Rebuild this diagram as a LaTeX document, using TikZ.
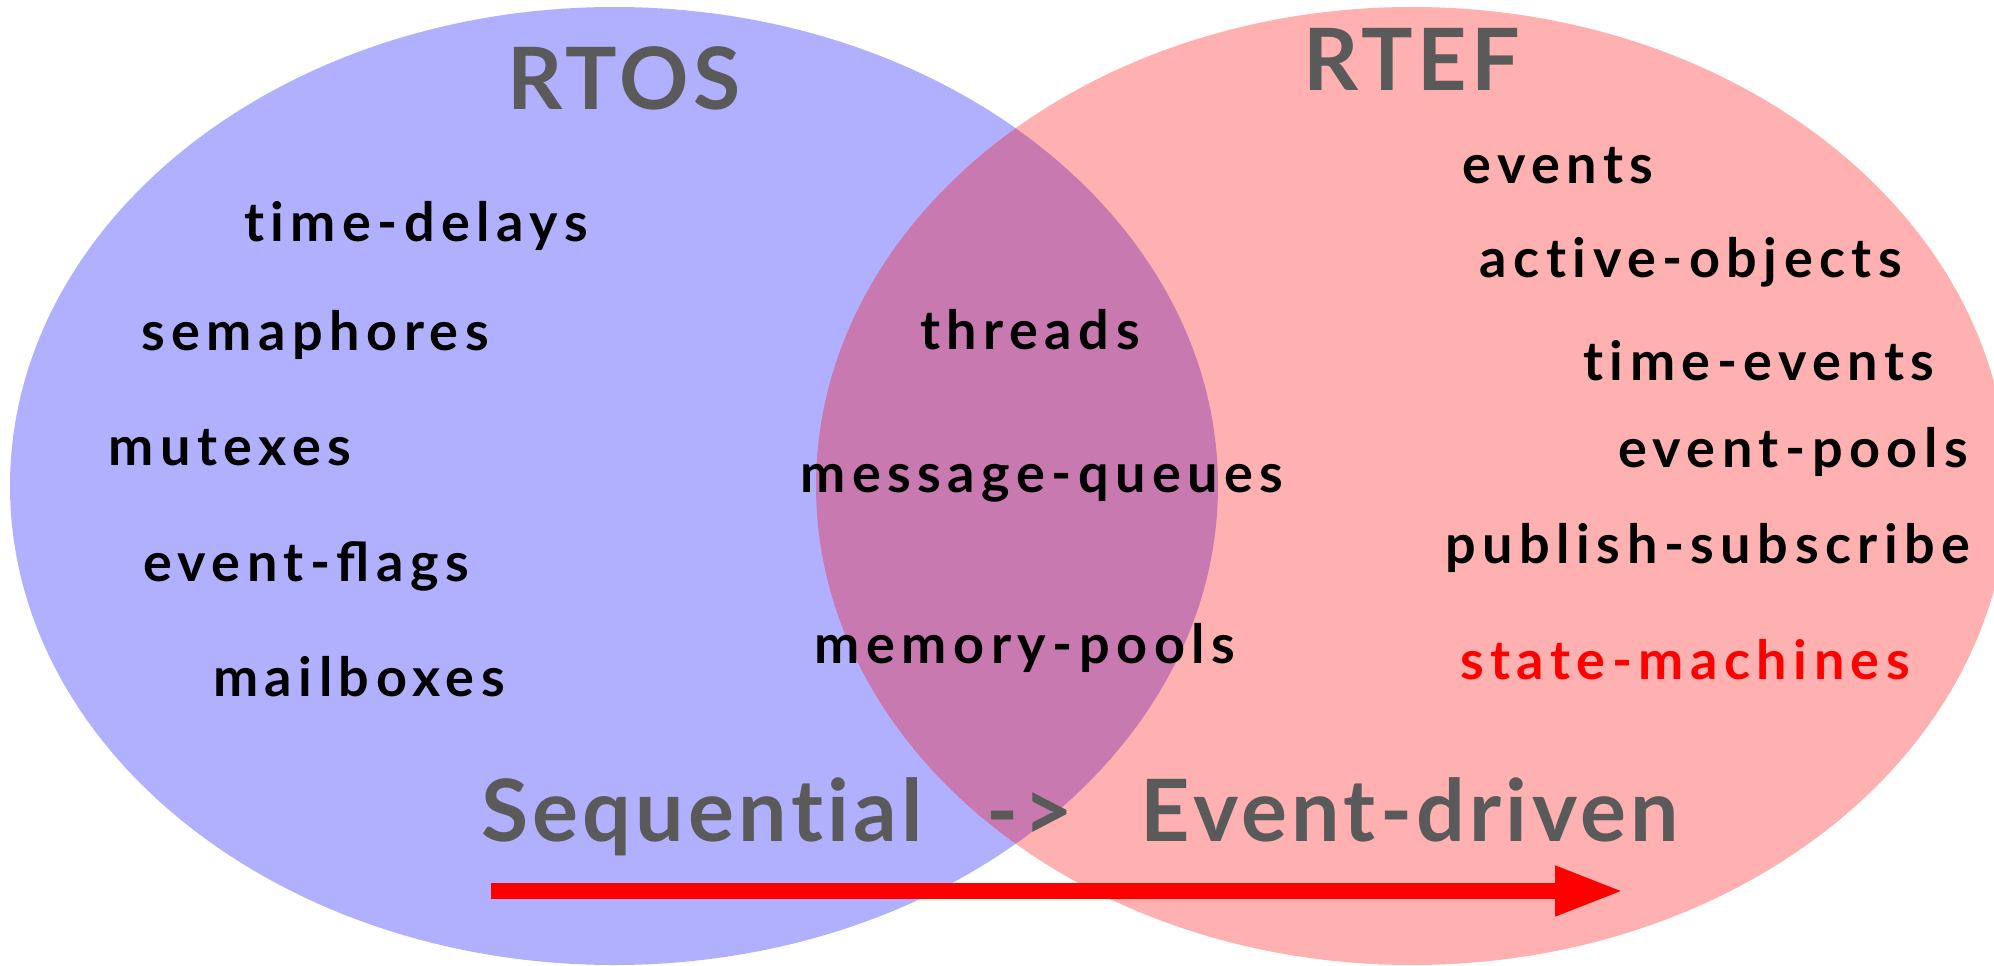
\documentclass[tikz,border=0pt]{standalone}
\usepackage{fontspec}
\setmainfont{Lato}
\newfontfamily\motfont{Lato}[LetterSpace=12,Ligatures=NoCommon]
\newfontfamily\titrefont{Lato}[LetterSpace=5,Ligatures=NoCommon]
\usetikzlibrary{arrows.meta}
\definecolor{grisfonce}{HTML}{5A5A5A}

\begin{document}
\begin{tikzpicture}[x=1pt,y=-1pt]
		\tikzstyle{mot} = [inner sep=0pt,anchor=base,font={\motfont\bfseries\fontsize{54}{62}\selectfont}];
		\tikzstyle{titre} = [inner sep=0pt,anchor=base,text=grisfonce,font={\titrefont\bfseries\fontsize{86}{96}\selectfont}];
		
		\useasboundingbox (0,0) rectangle (1994,966);
		
		% les deux ensembles
		\fill[blue,fill opacity=0.31] (614,486) ellipse [x radius=604pt,y radius=479pt];
		\fill[red,fill opacity=0.31] (1412,486) ellipse [x radius=596pt,y radius=479pt];
		
		\node[titre] (rtos) at (624,110) {RTOS};
		\node[titre] (rtef) at (1412,91) {RTEF};
		
		\foreach \x/\y/\t [count=\i] in {416/241/time-delays,315/350/semaphores,230/465/mutexes,306/581/event-ﬂags,359/696/mailboxes}{
			\node[mot] (os\i) at (\x,\y) {\t};
		}
		\foreach \x/\y/\t [count=\i] in {1030/349/threads,1042/492/message-queues,1025/663/memory-pools}{
			\node[mot] (com\i) at (\x,\y) {\t};
		}
		\foreach \x/\y/\t [count=\i] in {1558/183/events,1691/277/active-objects,1759/380/time-events,1793/467/event-pools,1708/563/publish-subscribe}{
			\node[mot] (ef\i) at (\x,\y) {\t};
		}
		\node[mot,text=red] (ef6) at (1685,679) {state-machines};
		
		\node[titre] (seq) at (702,841) {Sequential};
		\node[titre] (vers) at (1030,841) {->};
		\node[titre] (evt) at (1410,841) {Event-driven};
		
		\coordinate (debut) at (491,891);
		\coordinate (fin) at (1624,891);
		\draw[-{Triangle[length=69pt,width=46pt]},line width=16pt,red] (debut)--(fin);
		
\end{tikzpicture}
\end{document}
